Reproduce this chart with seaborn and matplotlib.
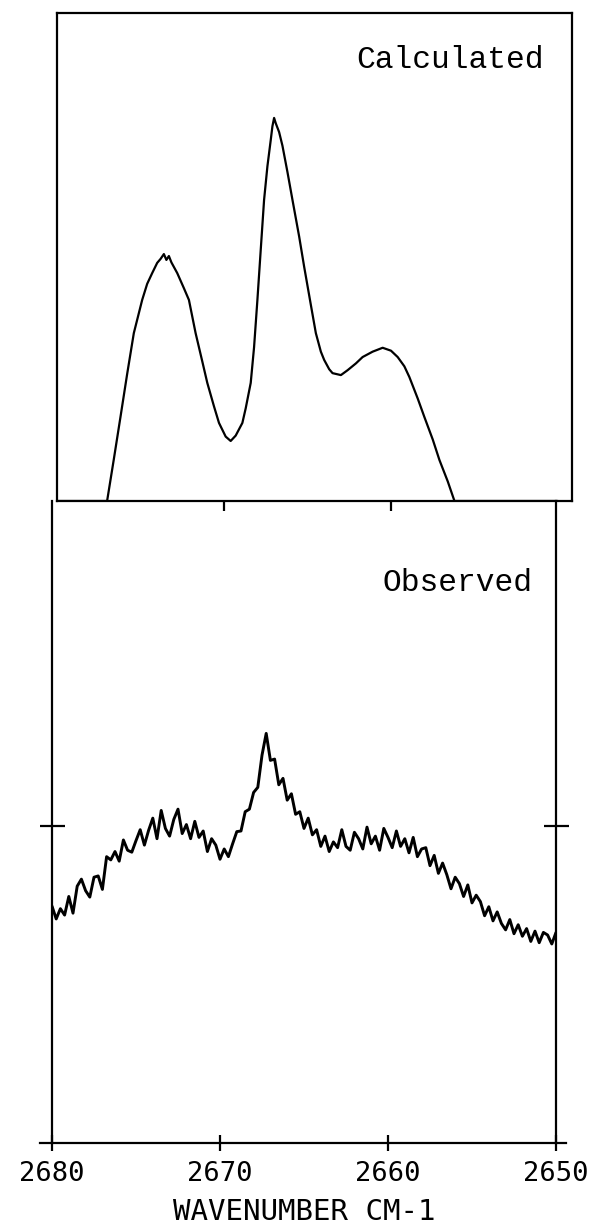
import matplotlib
matplotlib.use("Agg")
import matplotlib.pyplot as plt
import seaborn as sns
import pandas as pd

# ---------------- data ----------------
calc_wn = [2680.0, 2677.0, 2676.6, 2676.2, 2675.8, 2675.4, 2674.9, 2674.6, 2674.3, 2674.0,
           2673.8, 2673.6, 2673.45, 2673.3, 2673.15, 2672.8, 2672.4, 2672.1, 2671.7, 2671.3,
           2671.0, 2670.6, 2670.3, 2669.9, 2669.6, 2669.3, 2668.9, 2668.7, 2668.4, 2668.2,
           2668.0, 2667.8, 2667.6, 2667.4, 2667.2, 2667.1, 2667.0, 2666.9, 2666.7, 2666.5,
           2666.2, 2665.9, 2665.5, 2665.2, 2664.8, 2664.5, 2664.2, 2664.0, 2663.7, 2663.5,
           2663.0, 2662.6, 2662.1, 2661.7, 2661.1, 2660.5, 2660.0, 2659.6, 2659.2, 2658.9,
           2658.4, 2658.0, 2657.5, 2657.1, 2656.6, 2656.2, 2650.0]
calc_int = [0.0, 0.0, 8.5, 17.2, 26.0, 34.4, 41.2, 44.5, 46.7, 48.8,
            49.6, 50.6, 49.4, 50.2, 48.9, 46.7, 43.6, 41.2, 34.4, 28.6,
            24.2, 19.4, 16.0, 13.2, 12.3, 13.4, 16.0, 19.0, 24.2, 31.5,
            41.2, 51.5, 61.7, 68.6, 74.0, 76.8, 78.5, 77.4, 75.6, 72.8,
            67.4, 61.7, 54.2, 48.0, 40.2, 34.4, 30.6, 28.9, 27.0, 26.2,
            25.8, 26.8, 28.2, 29.5, 30.6, 31.4, 30.8, 29.5, 27.6, 25.4,
            21.0, 17.2, 12.6, 8.4, 4.0, 0.0, 0.0]

obs_wn = [2680.00, 2679.75, 2679.50, 2679.25, 2679.00, 2678.75, 2678.50, 2678.25,
          2678.00, 2677.75, 2677.50, 2677.25, 2677.00, 2676.75, 2676.50, 2676.25,
          2676.00, 2675.75, 2675.50, 2675.25, 2675.00, 2674.75, 2674.50, 2674.25,
          2674.00, 2673.75, 2673.50, 2673.25, 2673.00, 2672.75, 2672.50, 2672.25,
          2672.00, 2671.75, 2671.50, 2671.25, 2671.00, 2670.75, 2670.50, 2670.25,
          2670.00, 2669.75, 2669.50, 2669.25, 2669.00, 2668.75, 2668.50, 2668.25,
          2668.00, 2667.75, 2667.50, 2667.25, 2667.00, 2666.75, 2666.50, 2666.25,
          2666.00, 2665.75, 2665.50, 2665.25, 2665.00, 2664.75, 2664.50, 2664.25,
          2664.00, 2663.75, 2663.50, 2663.25, 2663.00, 2662.75, 2662.50, 2662.25,
          2662.00, 2661.75, 2661.50, 2661.25, 2661.00, 2660.75, 2660.50, 2660.25,
          2660.00, 2659.75, 2659.50, 2659.25, 2659.00, 2658.75, 2658.50, 2658.25,
          2658.00, 2657.75, 2657.50, 2657.25, 2657.00, 2656.75, 2656.50, 2656.25,
          2656.00, 2655.75, 2655.50, 2655.25, 2655.00, 2654.75, 2654.50, 2654.25,
          2654.00, 2653.75, 2653.50, 2653.25, 2653.00, 2652.75, 2652.50, 2652.25,
          2652.00, 2651.75, 2651.50, 2651.25, 2651.00, 2650.75, 2650.50, 2650.25,
          2650.00]
obs_int = [36.9, 34.9, 36.5, 35.5, 38.4, 35.8, 40.0, 41.1,
           39.3, 38.3, 41.4, 41.6, 39.5, 44.6, 44.1, 45.4,
           43.9, 47.2, 45.6, 45.3, 47.1, 48.8, 46.4, 48.7,
           50.6, 47.4, 51.8, 49.0, 47.8, 50.4, 52.0, 48.2,
           49.6, 47.4, 50.1, 47.6, 48.6, 45.4, 47.4, 46.4,
           44.2, 45.8, 44.6, 46.6, 48.5, 48.6, 51.6, 52.0,
           54.6, 55.4, 60.4, 63.8, 59.6, 59.8, 55.8, 56.8,
           53.4, 54.4, 51.2, 51.6, 49.0, 50.6, 48.0, 48.8,
           46.2, 47.8, 45.4, 46.9, 46.0, 48.8, 46.2, 45.6,
           48.4, 47.4, 45.8, 49.2, 46.6, 47.8, 45.6, 49.0,
           47.6, 46.0, 48.6, 46.2, 47.4, 45.2, 47.6, 44.6,
           45.8, 46.0, 43.2, 44.8, 42.0, 43.6, 41.8, 39.6,
           41.4, 40.4, 38.4, 40.2, 37.4, 38.6, 37.6, 35.4,
           36.8, 34.6, 36.0, 34.2, 33.2, 34.8, 32.6, 34.0,
           32.2, 33.4, 31.4, 33.0, 31.2, 32.8, 32.4, 31.0,
           32.8]

x_ticks = [2680, 2670, 2660, 2650]
x_tick_labels = ["2680", "2670", "2660", "2650"]
top_label = "Calculated"
bottom_label = "Observed"
x_title = "WAVENUMBER CM-1"

calc_df = pd.DataFrame({"wn": calc_wn, "intensity": calc_int})
obs_df = pd.DataFrame({"wn": obs_wn, "intensity": obs_int})

# ---------------- style ----------------
sns.set_style("white")
plt.rcParams["font.family"] = ["Liberation Mono", "DejaVu Sans Mono", "DejaVu Sans"]
plt.rcParams["text.color"] = "black"
plt.rcParams["xtick.color"] = "black"
plt.rcParams["axes.labelcolor"] = "black"

fig = plt.figure(figsize=(5.94, 12.32), dpi=100)
ax_bot = fig.add_axes([52 / 594, 89 / 1232, 504 / 594, 642 / 1232])
ax_top = fig.add_axes([57 / 594, 731 / 1232, 515 / 594, 488 / 1232])
ax_bot.set_facecolor("none")
ax_top.set_facecolor("none")

sns.lineplot(data=calc_df, x="wn", y="intensity", ax=ax_top, color="black",
             linewidth=1.6, estimator=None, sort=False)
sns.lineplot(data=obs_df, x="wn", y="intensity", ax=ax_bot, color="black",
             linewidth=2.1, estimator=None, sort=False)

ax_top.set_xlim(2680, 2680 - 515 / 16.7)
ax_bot.set_xlim(2680, 2650)
for ax in (ax_top, ax_bot):
    ax.set_ylim(0, 100)
    ax.set_xlabel("")
    ax.set_ylabel("")
    for s in ax.spines.values():
        s.set_color("black")
        s.set_linewidth(1.6)

# top panel
ax_top.set_yticks([])
ax_top.set_xticks([2670, 2660])
ax_top.tick_params(axis="x", direction="out", length=7, width=1.6,
                   color="black", labelbottom=False, bottom=True)
ax_top.text(0.946, 0.904, top_label, transform=ax_top.transAxes, ha="right",
            va="center", fontsize=22.5, color="black",
            family=["Liberation Mono", "DejaVu Sans Mono"])

# bottom panel
ax_bot.spines["top"].set_visible(False)
ax_bot.set_yticks([49.4])
ax_bot.tick_params(axis="y", direction="inout", length=18, width=1.6, color="black",
                   left=True, right=True, labelleft=False, labelright=False)
ax_bot.set_xticks(x_ticks)
ax_bot.set_xticklabels(x_tick_labels, family=["DejaVu Sans Mono"], fontsize=19.5,
                       color="black")
ax_bot.tick_params(axis="x", direction="inout", length=12, width=1.6, color="black",
                   bottom=True, pad=7)
ax_bot.spines["bottom"].set_bounds(2680.7, 2649.4)
ax_bot.text(0.954, 0.872, bottom_label, transform=ax_bot.transAxes, ha="right",
            va="center", fontsize=22.5, color="black",
            family=["Liberation Mono", "DejaVu Sans Mono"])
ax_bot.set_xlabel(x_title, family=["DejaVu Sans Mono"], fontsize=21, labelpad=8,
                  color="black")

fig.savefig("out.png", dpi=100, facecolor="white")
